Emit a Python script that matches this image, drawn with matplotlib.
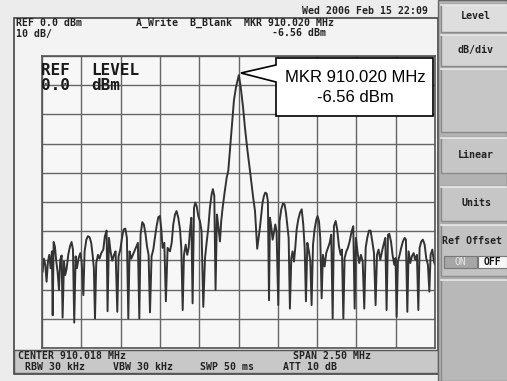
import numpy as np
import matplotlib
matplotlib.use("Agg")
from matplotlib import pyplot as plt
from matplotlib.patches import Rectangle, Polygon

# analyzer settings
center_mhz = 910.018
span_mhz = 2.50
ref_dbm = 0.0
db_per_div = 10

# trace: offset from center (kHz) and level (dBm)
offset_khz = [
    -1246, -1238, -1229, -1221, -1212, -1204, -1195, -1187, -1182, -1176,
    -1168, -1159, -1151, -1142, -1134, -1125, -1119, -1110, -1102, -1093,
    -1083, -1072, -1062, -1053, -1045, -1036, -1028, -1017, -1006, -998,
    -987, -979, -968, -958, -947, -937, -928, -920, -913, -905,
    -894, -884, -873, -860, -850, -839, -833, -824, -814, -803,
    -792, -782, -771, -763, -752, -741, -731, -720, -710, -701,
    -693, -682, -672, -661, -650, -640, -631, -623, -612, -602,
    -591, -582, -572, -563, -553, -542, -532, -521, -510, -500,
    -491, -483, -472, -462, -451, -436, -425, -415, -404, -394,
    -383, -372, -364, -355, -347, -336, -326, -317, -309, -300,
    -292, -283, -275, -266, -256, -245, -235, -224, -213, -203,
    -192, -182, -171, -163, -154, -146, -137, -127, -118, -110,
    -101, -90, -75, -65, -43, -29, -16, 2, 14, 29,
    41, 57, 73, 92, 105, 119, 128, 136, 145, 153,
    162, 170, 179, 187, 194, 200, 208, 217, 225, 234,
    242, 253, 261, 272, 283, 293, 302, 310, 319, 327,
    336, 344, 353, 361, 370, 380, 391, 402, 412, 421,
    429, 438, 448, 457, 465, 474, 484, 495, 503, 512,
    520, 529, 537, 548, 558, 569, 580, 590, 599, 607,
    618, 628, 639, 650, 658, 667, 675, 686, 696, 707,
    720, 730, 739, 747, 758, 768, 779, 790, 800, 809,
    819, 830, 840, 851, 862, 872, 881, 891, 902, 913,
    923, 934, 942, 951, 959, 970, 980, 991, 999, 1006,
    1014, 1025, 1035, 1046, 1057, 1065, 1074, 1082, 1093, 1103,
    1114, 1124, 1135, 1144, 1152, 1163, 1173, 1184, 1194, 1205,
    1214, 1222, 1233, 1243, 1250,
]
level_dbm = [
    -73.8, -69.4, -71.5, -77.3, -70.4, -68.1, -72.7, -66.9, -88.8, -63.7,
    -65.2, -70.4, -73.8, -80.1, -69.8, -68.3, -89.6, -70.4, -75.0, -72.7,
    -68.1, -65.2, -63.7, -66.3, -91.3, -68.6, -72.7, -69.2, -67.5, -70.4,
    -81.9, -66.9, -62.9, -61.7, -62.1, -64.0, -68.1, -72.7, -89.9, -70.9,
    -68.1, -69.4, -67.5, -66.3, -61.7, -59.8, -87.4, -62.3, -66.9, -70.1,
    -68.1, -66.9, -87.6, -68.6, -66.3, -62.3, -59.4, -59.1, -62.3, -89.9,
    -66.9, -69.4, -68.1, -66.7, -65.2, -64.0, -89.9, -61.2, -56.9, -57.7,
    -61.2, -65.2, -68.1, -87.8, -68.6, -66.3, -62.3, -58.3, -55.2, -54.8,
    -59.4, -65.7, -64.0, -84.0, -65.7, -66.9, -64.0, -57.7, -54.3, -53.1,
    -55.4, -59.4, -65.7, -87.0, -68.1, -64.6, -68.1, -65.7, -60.0, -55.4,
    -84.7, -52.0, -50.2, -51.4, -54.8, -56.6, -60.0, -85.9, -69.2, -64.0,
    -58.9, -52.0, -47.4, -45.6, -47.9, -80.1, -54.3, -58.9, -63.5, -56.6,
    -52.0, -47.4, -41.6, -39.3, -24.5, -15.2, -10.7, -6.56, -10.6, -17.6,
    -24.5, -32.4, -39.3, -47.9, -53.1, -66.0, -62.3, -58.9, -54.3, -50.2,
    -47.9, -46.8, -47.1, -49.7, -83.6, -55.4, -58.3, -62.9, -60.6, -57.7,
    -60.0, -85.3, -56.6, -52.5, -50.5, -50.8, -53.7, -57.7, -62.3, -86.5,
    -69.2, -66.9, -70.4, -65.7, -59.4, -56.0, -53.7, -52.5, -57.7, -65.7,
    -84.0, -64.0, -66.9, -70.4, -85.3, -64.6, -59.4, -56.0, -54.8, -56.6,
    -62.3, -83.0, -68.1, -72.1, -67.5, -65.7, -64.0, -61.2, -89.9, -58.3,
    -56.5, -59.4, -65.2, -68.1, -66.3, -89.9, -69.2, -66.9, -65.7, -63.5,
    -60.0, -58.3, -86.5, -62.3, -67.5, -70.9, -68.1, -70.4, -86.5, -65.7,
    -62.3, -59.8, -59.8, -63.5, -67.5, -85.3, -68.1, -66.3, -69.8, -66.9,
    -64.6, -62.3, -87.0, -61.2, -60.9, -63.5, -68.1, -71.5, -69.2, -89.3,
    -70.4, -68.1, -65.7, -63.5, -62.3, -62.9, -87.6, -66.9, -70.9, -68.6,
    -67.5, -69.8, -68.1, -87.0, -65.7, -63.5, -62.9, -64.6, -69.2, -71.5,
    -80.7, -68.1, -66.3, -70.4, -71.5,
]

header_left = ["REF 0.0 dBm", "10 dB/"]
header_mid = ["A_Write  B_Blank  MKR 910.020 MHz", "-6.56 dBm"]
date_text = "Wed 2006 Feb 15 22:09"
marker_text = ["MKR 910.020 MHz", "-6.56 dBm"]
footer_row1 = [("CENTER 910.018 MHz", 18), ("SPAN 2.50 MHz", 293)]
footer_row2 = [("RBW 30 kHz", 25), ("VBW 30 kHz", 113), ("SWP 50 ms", 200), ("ATT 10 dB", 283)]

W, H = 507, 381
fig = plt.figure(figsize=(W / 100, H / 100), dpi=100, facecolor="#ececec")
mono = "DejaVu Sans Mono"

# background: screen frame, status bar and softkey panel (pixel coords)
bg = fig.add_axes([0, 0, 1, 1], zorder=0)
bg.set_xlim(0, W)
bg.set_ylim(H, 0)
bg.axis("off")
bg.add_patch(Rectangle((14, 18), 424, 356, fc="#f3f3f3", ec="#444444", lw=1.2))
bg.add_patch(Rectangle((14, 350), 424, 23, fc="#c8c8c8", ec="#555555", lw=1))
bg.add_patch(Rectangle((438, 0), 69, H, fc="#b2b2b2", ec="#666666", lw=1))

buttons = [(4, 28, "Level", "#dedede"), (34, 32, "dB/div", "#d4d4d4"),
           (68, 64, "", "#c6c6c6"), (137, 36, "Linear", "#c6c6c6"),
           (186, 35, "Units", "#c6c6c6"), (224, 52, "", "#c2c2c2"),
           (279, 102, "", "#b8b8b8")]
for top, h, label, col in buttons:
    bg.add_patch(Rectangle((441, top), 68, h, fc=col, ec="#8a8a8a", lw=1))
    bg.plot([441, 507], [top + 1, top + 1], color="#ececec", lw=1.2)
    if label:
        bg.text(476, top + h / 2 - (2 if label == "Level" else 0), label,
                family=mono, weight="bold", fontsize=7.2, color="#222222",
                ha="center", va="center")
bg.text(442, 241, "Ref Offset", family=mono, weight="bold", fontsize=7.2,
        color="#222222", ha="left", va="center", clip_on=True)
bg.add_patch(Rectangle((444, 256), 33, 12, fc="#a6a6a6", ec="#777777", lw=0.8))
bg.add_patch(Rectangle((478, 256), 29, 12, fc="#f6f6f6", ec="#777777", lw=0.8))
bg.text(460, 262, "ON", family=mono, fontsize=7, color="#e4e4e4", ha="center", va="center")
bg.text(492, 262, "OFF", family=mono, weight="bold", fontsize=7, color="#111111",
        ha="center", va="center")

txt = dict(family=mono, weight="bold", fontsize=7.1, color="#222222", va="center")
bg.text(302, 11, date_text, ha="left", **txt)
bg.text(16, 23, header_left[0], ha="left", **txt)
bg.text(16, 33.5, header_left[1], ha="left", **txt)
bg.text(136, 23, header_mid[0], ha="left", **txt)
bg.text(272, 33.5, header_mid[1], ha="left", **txt)
for s, x in footer_row1:
    bg.text(x, 356, s, ha="left", **txt)
for s, x in footer_row2:
    bg.text(x, 367, s, ha="left", **txt)

# graticule and trace
x0 = center_mhz - span_mhz / 2
x1 = center_mhz + span_mhz / 2
ax = fig.add_axes([42 / W, 1 - 348 / H, 393 / W, 292 / H], zorder=1)
ax.set_facecolor("#f7f7f7")
ax.set_xlim(x0, x1)
ax.set_ylim(ref_dbm - 10 * db_per_div, ref_dbm)
ax.set_xticks(np.linspace(x0, x1, 11))
ax.set_yticks(np.linspace(ref_dbm - 10 * db_per_div, ref_dbm, 11))
ax.tick_params(length=0, labelbottom=False, labelleft=False)
ax.grid(True, color="#666666", lw=1)
for sp in ax.spines.values():
    sp.set_color("#555555")
    sp.set_linewidth(1.2)
freq = center_mhz + np.array(offset_khz) / 1000.0
ax.plot(freq, level_dbm, color="#333333", lw=1.4)

# overlay: big ref level text and marker callout
ov = fig.add_axes([0, 0, 1, 1], zorder=2)
ov.set_xlim(0, W)
ov.set_ylim(H, 0)
ov.axis("off")
ov.patch.set_alpha(0)
big = dict(family=mono, weight="bold", fontsize=11.5, color="#1a1a1a", va="center", ha="left")
ov.text(41, 70.5, "REF", **big)
ov.text(91, 70.5, "LEVEL", **big)
ov.text(41, 85.5, "0.0", **big)
ov.text(91, 85.5, "dBm", **big)
ov.add_patch(Polygon([(276, 58), (433, 58), (433, 116), (276, 116), (276, 82),
                      (241, 73), (276, 65)], closed=True, fc="white", ec="black", lw=1.2))
ov.text(355, 77, marker_text[0], family="Liberation Sans", fontsize=12, ha="center", va="center")
ov.text(355, 98, marker_text[1], family="Liberation Sans", fontsize=12, ha="center", va="center")

fig.savefig("out.png", dpi=100, facecolor=fig.get_facecolor())
